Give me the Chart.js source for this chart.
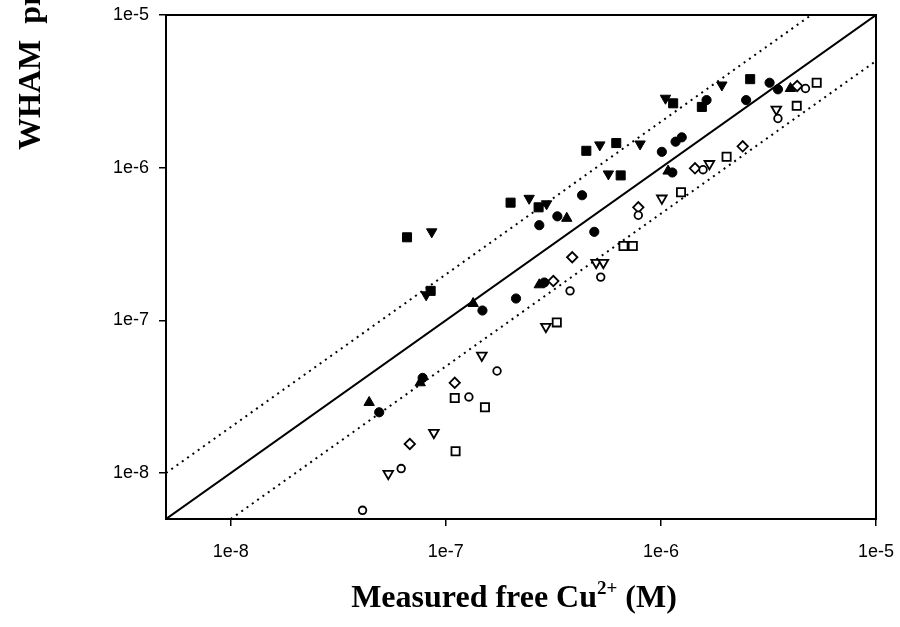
<!DOCTYPE html>
<html>
<head>
<meta charset="utf-8">
<script src="https://cdn.jsdelivr.net/npm/chart.js@4.4.1/dist/chart.umd.min.js"></script>
<style>
  html, body { margin: 0; padding: 0; background: #fff; }
  canvas { display: block; }
</style>
</head>
<body>
<canvas id="chart" width="900" height="627"></canvas>
<script>
// axis range and ticks
let axisMin = 5e-9
let axisMax = 1e-5
let tickValues = [1e-8, 1e-7, 1e-6, 1e-5]
let tickLabels = ['1e-8', '1e-7', '1e-6', '1e-5']

// 1:1 line and factor-of-2 lines
let refRatios = [1, 2, 0.5]

// axis titles (main text, superscript, rest)
let xTitle = ['Measured free Cu', '2+', ' (M)']
let yTitle = ['WHAM  predicted free Cu', '2+', ' (M)']

// filled markers
let circleX = [4.9e-8, 7.8e-8, 1.48e-7, 2.12e-7, 2.87e-7, 2.72e-7, 3.3e-7, 4.3e-7, 4.9e-7, 1.01e-6, 1.17e-6, 1.25e-6, 1.13e-6, 1.63e-6, 2.49e-6, 3.2e-6, 3.5e-6]
let circleY = [2.5e-8, 4.2e-8, 1.16e-7, 1.39e-7, 1.77e-7, 4.2e-7, 4.8e-7, 6.6e-7, 3.8e-7, 1.27e-6, 1.48e-6, 1.58e-6, 9.3e-7, 2.77e-6, 2.77e-6, 3.6e-6, 3.26e-6]

let upTriX = [4.4e-8, 7.6e-8, 1.34e-7, 2.72e-7, 3.65e-7, 1.08e-6, 4.0e-6]
let upTriY = [2.9e-8, 3.9e-8, 1.29e-7, 1.71e-7, 4.66e-7, 9.5e-7, 3.3e-6]

let downTriX = [8.6e-8, 8.1e-8, 2.44e-7, 2.94e-7, 5.2e-7, 8.0e-7, 5.7e-7, 1.05e-6, 1.92e-6]
let downTriY = [3.8e-7, 1.47e-7, 6.3e-7, 5.8e-7, 1.41e-6, 1.43e-6, 9.1e-7, 2.85e-6, 3.48e-6]

let squareX = [6.6e-8, 8.5e-8, 2.0e-7, 2.7e-7, 4.5e-7, 6.2e-7, 6.5e-7, 1.14e-6, 1.55e-6, 2.6e-6]
let squareY = [3.5e-7, 1.56e-7, 5.9e-7, 5.5e-7, 1.29e-6, 1.45e-6, 8.9e-7, 2.64e-6, 2.5e-6, 3.8e-6]

// open markers
let openCircleX = [4.1e-8, 6.2e-8, 1.28e-7, 1.73e-7, 3.78e-7, 5.25e-7, 7.85e-7, 1.57e-6, 3.5e-6, 4.7e-6]
let openCircleY = [5.7e-9, 1.07e-8, 3.15e-8, 4.66e-8, 1.56e-7, 1.92e-7, 4.88e-7, 9.7e-7, 2.1e-6, 3.3e-6]

let openDiamondX = [6.8e-8, 1.1e-7, 3.16e-7, 3.87e-7, 7.85e-7, 1.44e-6, 2.4e-6, 4.3e-6]
let openDiamondY = [1.55e-8, 3.9e-8, 1.81e-7, 2.59e-7, 5.5e-7, 9.9e-7, 1.38e-6, 3.43e-6]

let openDownTriX = [5.4e-8, 8.8e-8, 1.47e-7, 2.92e-7, 5.0e-7, 5.4e-7, 1.01e-6, 1.68e-6, 3.44e-6]
let openDownTriY = [9.9e-9, 1.84e-8, 5.9e-8, 9.1e-8, 2.39e-7, 2.39e-7, 6.3e-7, 1.06e-6, 2.41e-6]

let openSquareX = [1.1e-7, 1.52e-7, 1.11e-7, 3.28e-7, 6.7e-7, 7.4e-7, 1.24e-6, 2.02e-6, 4.28e-6, 5.3e-6]
let openSquareY = [3.1e-8, 2.7e-8, 1.39e-8, 9.7e-8, 3.07e-7, 3.07e-7, 6.9e-7, 1.18e-6, 2.54e-6, 3.6e-6]

// x/y arrays -> points
function toPoints(xs, ys) {
    let points = []
    for (let i = 0; i < xs.length; i++) {
        points.push({ x: xs[i], y: ys[i] })
    }
    return points
}

// reference line y = ratio * x clipped to the axis range
function refLine(ratio) {
    let x0 = Math.max(axisMin, axisMin / ratio)
    let x1 = Math.min(axisMax, axisMax / ratio)
    return [{ x: x0, y: x0 * ratio }, { x: x1, y: x1 * ratio }]
}

function markerSet(label, xs, ys, style, radius, filled, rotation) {
    return {
        type: 'scatter',
        label: label,
        data: toPoints(xs, ys),
        pointStyle: style,
        pointRadius: radius,
        pointRotation: rotation || 0,
        pointBackgroundColor: filled ? '#000' : '#fff',
        pointBorderColor: '#000',
        pointBorderWidth: filled ? 1 : 1.8,
        order: 0
    }
}

let datasets = []

// reference lines
for (let r of refRatios) {
    datasets.push({
        type: 'line',
        label: 'y = ' + r + 'x',
        data: refLine(r),
        borderColor: '#000',
        borderWidth: 2,
        borderDash: r === 1 ? [] : [2, 4.5],
        pointRadius: 0,
        fill: false,
        order: 2
    })
}

datasets.push(markerSet('circle', circleX, circleY, 'circle', 4.6, true))
datasets.push(markerSet('triangle up', upTriX, upTriY, 'triangle', 6, true))
datasets.push(markerSet('triangle down', downTriX, downTriY, 'triangle', 6, true, 180))
datasets.push(markerSet('square', squareX, squareY, 'rect', 6.4, true))
datasets.push(markerSet('open circle', openCircleX, openCircleY, 'circle', 3.8, false))
datasets.push(markerSet('open diamond', openDiamondX, openDiamondY, 'rectRot', 5.2, false))
datasets.push(markerSet('open triangle down', openDownTriX, openDownTriY, 'triangle', 5.6, false, 180))
datasets.push(markerSet('open square', openSquareX, openSquareY, 'rect', 5.8, false))

// title with superscript
function drawTitle(ctx, parts, size) {
    let main = 'bold ' + size + 'px "Liberation Serif", "Times New Roman", serif'
    let sup = 'bold ' + Math.round(size * 0.6) + 'px "Liberation Serif", "Times New Roman", serif'
    let x = 0
    ctx.font = main
    ctx.fillText(parts[0], x, 0)
    x += ctx.measureText(parts[0]).width
    ctx.font = sup
    ctx.fillText(parts[1], x, -size * 0.4)
    x += ctx.measureText(parts[1]).width
    ctx.font = main
    ctx.fillText(parts[2], x, 0)
}

function titleWidth(ctx, parts, size) {
    ctx.font = 'bold ' + size + 'px "Liberation Serif", "Times New Roman", serif'
    let w = ctx.measureText(parts[0]).width + ctx.measureText(parts[2]).width
    ctx.font = 'bold ' + Math.round(size * 0.6) + 'px "Liberation Serif", "Times New Roman", serif'
    return w + ctx.measureText(parts[1]).width
}

let framePlugin = {
    id: 'frame',
    afterDraw(chart) {
        let ctx = chart.ctx
        let a = chart.chartArea
        ctx.save()
        ctx.strokeStyle = '#000'
        ctx.lineWidth = 2
        ctx.strokeRect(a.left, a.top, a.right - a.left, a.bottom - a.top)

        ctx.fillStyle = '#000'
        ctx.textBaseline = 'alphabetic'
        ctx.textAlign = 'left'
        // x title (sits a little left of the plot centre)
        let size = 32
        let w = titleWidth(ctx, xTitle, size)
        ctx.save()
        ctx.translate((a.left + a.right) / 2 - 7 - w / 2, 607)
        drawTitle(ctx, xTitle, size)
        ctx.restore()
        // y title (runs past the top edge)
        ctx.save()
        ctx.translate(40, 150)
        ctx.rotate(-Math.PI / 2)
        drawTitle(ctx, yTitle, size)
        ctx.restore()
        ctx.restore()
    }
}

function axisOptions(isX) {
    return {
        type: 'logarithmic',
        min: axisMin,
        max: axisMax,
        afterBuildTicks: function(scale) {
            scale.ticks = tickValues.map(v => ({ value: v }))
        },
        afterFit: function(scale) {
            if (isX) scale.height = 108
            else scale.width = 166
            // labels may overhang the plot edges
            scale.paddingLeft = 0
            scale.paddingRight = 0
            scale.paddingTop = 0
            scale.paddingBottom = 0
        },
        ticks: {
            autoSkip: false,
            maxRotation: 0,
            color: '#000',
            padding: isX ? 15 : 10,
            font: { family: '"Liberation Sans", Arial, sans-serif', size: 18 },
            callback: function(value) {
                let i = tickValues.indexOf(value)
                return i >= 0 ? tickLabels[i] : ''
            }
        },
        grid: {
            drawOnChartArea: false,
            drawTicks: true,
            tickLength: 7,
            color: '#000',
            lineWidth: 1.5
        },
        border: { display: true, color: '#000', width: 2 },
        title: { display: false }
    }
}

let chart = new Chart(document.getElementById('chart').getContext('2d'), {
    type: 'scatter',
    data: { datasets: datasets },
    options: {
        responsive: false,
        animation: false,
        layout: { padding: { left: 0, right: 24, top: 15, bottom: 0 } },
        plugins: {
            legend: { display: false },
            tooltip: { enabled: false }
        },
        scales: {
            x: axisOptions(true),
            y: axisOptions(false)
        }
    },
    plugins: [framePlugin]
})
</script>
</body>
</html>
